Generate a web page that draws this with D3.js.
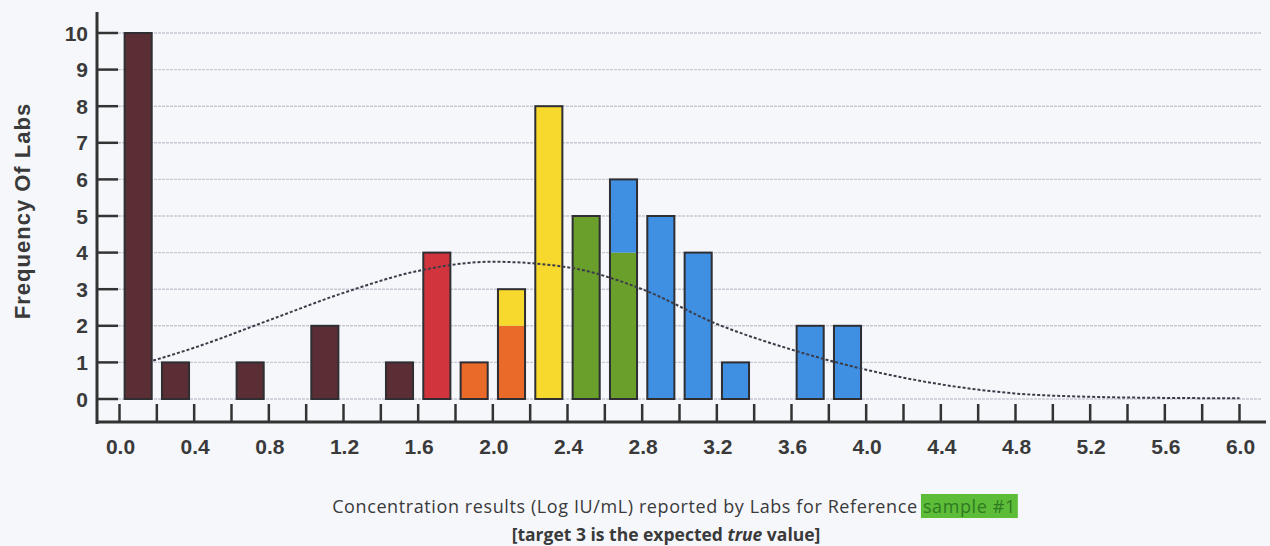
<!DOCTYPE html>
<html><head><meta charset="utf-8">
<script src="https://cdn.jsdelivr.net/npm/d3@7"></script>
<style>html,body{margin:0;padding:0;background:#f5f7fb;}svg{display:block;}</style>
</head><body>
<svg id="chart" width="1270" height="546"></svg>
<script>
// ---- data ----
const binCenters = [0.1,0.3,0.7,1.1,1.5,1.7,1.9,2.1,2.3,2.5,2.7,2.9,3.1,3.3,3.7,3.9];
const brownCounts  = [10,1,1,2,1,0,0,0,0,0,0,0,0,0,0,0];
const redCounts    = [0,0,0,0,0,4,0,0,0,0,0,0,0,0,0,0];
const orangeCounts = [0,0,0,0,0,0,1,2,0,0,0,0,0,0,0,0];
const yellowCounts = [0,0,0,0,0,0,0,1,8,0,0,0,0,0,0,0];
const greenCounts  = [0,0,0,0,0,0,0,0,0,5,4,0,0,0,0,0];
const blueCounts   = [0,0,0,0,0,0,0,0,0,0,2,5,4,1,2,2];
const seriesNames  = ["brown","red","orange","yellow","green","blue"];
const seriesColors = ["#5a2e34","#d2343e","#ea6a2a","#f6d92c","#6b9f2b","#3f8fe2"];
// fitted normal curve
const curveX = [0.18,0.4,0.8,1.2,1.6,2.0,2.4,2.8,3.2,3.6,4.0,4.4,4.8,5.2,5.6,6.0];
const curveY = [1.05,1.4,2.15,2.9,3.5,3.75,3.6,3.0,2.05,1.35,0.8,0.4,0.15,0.06,0.03,0.02];
const xTickValues = d3.range(0, 31).map(i => +(i*0.2).toFixed(1));
const xLabelValues = d3.range(0, 16).map(i => +(i*0.4).toFixed(1));
const yTickValues = d3.range(0, 11);
const yTitle = "Frequency Of Labs";
const caption1 = "Concentration results (Log IU/mL) reported by Labs for Reference ";
const caption1hl = "sample #1";

// ---- drawing ----
const svg = d3.select("#chart");
const x = d3.scaleLinear().domain([0,6]).range([119.5,1239.5]);
const y = d3.scaleLinear().domain([0,10]).range([399,33]);
const barW = x(0.145) - x(0);
const labelFont = "Liberation Sans, Arial, sans-serif";

// gridlines
svg.append("g").selectAll("line").data(yTickValues).join("line")
  .attr("x1",118).attr("x2",1262).attr("y1",d=>y(d)).attr("y2",d=>y(d))
  .attr("stroke","#c6c9d3").attr("stroke-width",1.4).attr("stroke-dasharray","3,1");

// stacked bars
const rows = binCenters.map((c,i)=>({c, brown:brownCounts[i], red:redCounts[i], orange:orangeCounts[i],
  yellow:yellowCounts[i], green:greenCounts[i], blue:blueCounts[i]}));
const stacked = d3.stack().keys(seriesNames)(rows);
const gBars = svg.append("g");
stacked.forEach((layer,k)=>{
  gBars.selectAll(null).data(layer.filter(d=>d[1]>d[0])).join("rect")
    .attr("x",d=>x(d.data.c)-barW/2).attr("width",barW)
    .attr("y",d=>y(d[1])).attr("height",d=>y(d[0])-y(d[1]))
    .attr("fill",seriesColors[k]);
});
gBars.selectAll(null).data(rows).join("rect")
  .attr("x",d=>x(d.c)-barW/2).attr("width",barW)
  .attr("y",d=>y(d3.sum(seriesNames,s=>d[s]))).attr("height",d=>y(0)-y(d3.sum(seriesNames,s=>d[s])))
  .attr("fill","none").attr("stroke","#2e2e33").attr("stroke-width",2);

// curve
const line = d3.line().x((d,i)=>x(curveX[i])).y(d=>y(d)).curve(d3.curveMonotoneX);
svg.append("path").attr("d",line(curveY)).attr("fill","none")
  .attr("stroke","#3c3c48").attr("stroke-width",2).attr("stroke-dasharray","3,2");

// y axis
svg.append("line").attr("x1",97).attr("x2",97).attr("y1",12).attr("y2",424)
  .attr("stroke","#333").attr("stroke-width",3);
svg.append("g").selectAll("line").data(yTickValues).join("line")
  .attr("x1",98).attr("x2",118).attr("y1",d=>y(d)).attr("y2",d=>y(d))
  .attr("stroke","#333").attr("stroke-width",2.5);
svg.append("g").selectAll("text").data(yTickValues).join("text")
  .attr("x",88).attr("y",d=>y(d)).attr("dy","0.36em").attr("text-anchor","end")
  .attr("font-family",labelFont).attr("font-weight","bold")
  .attr("font-size",21).attr("fill","#3a3a3a").text(d=>d);

// x axis
svg.append("line").attr("x1",96).attr("x2",1266).attr("y1",422).attr("y2",422)
  .attr("stroke","#333").attr("stroke-width",3);
svg.append("g").selectAll("line").data(xTickValues).join("line")
  .attr("x1",d=>x(d)).attr("x2",d=>x(d)).attr("y1",404).attr("y2",422)
  .attr("stroke","#333").attr("stroke-width",2.5);
svg.append("g").selectAll("text").data(xLabelValues).join("text")
  .attr("x",d=>x(d)+1).attr("y",446).attr("dy","0.36em").attr("text-anchor","middle")
  .attr("font-family",labelFont).attr("font-weight","bold")
  .attr("font-size",21).attr("fill","#3a3a3a").text(d=>d3.format(".1f")(d));

// y title
svg.append("text").attr("transform","translate(30,211) rotate(-90)").attr("text-anchor","middle")
  .attr("font-family",labelFont).attr("font-weight","bold").attr("letter-spacing",1)
  .attr("font-size",22).attr("fill","#3a3a3a").text(yTitle);

// caption
const cap = svg.append("text").attr("x",674).attr("y",513).attr("text-anchor","middle")
  .attr("font-family","Open Sans, sans-serif").attr("font-size",18).attr("letter-spacing",0.6).attr("fill","#3a3a3a");
cap.append("tspan").text(caption1);
const hl = cap.append("tspan").attr("fill","#2f7a22").text(caption1hl);
const capNode = cap.node();
const n = caption1.length;
const start = capNode.getStartPositionOfChar(n);
const end = capNode.getEndPositionOfChar(n + caption1hl.length - 1);
svg.insert("rect", () => capNode).attr("x",start.x-2).attr("y",494).attr("width",end.x-start.x+4).attr("height",24)
  .attr("fill","#5dbd38");

const cap2 = svg.append("text").attr("x",666).attr("y",541).attr("text-anchor","middle")
  .attr("font-family","Open Sans, sans-serif").attr("font-size",17.5).attr("font-weight","bold").attr("fill","#3a3a3a");
cap2.append("tspan").text("[target 3 is the expected ");
cap2.append("tspan").attr("font-style","italic").text("true");
cap2.append("tspan").text(" value]");
</script>
</body></html>
